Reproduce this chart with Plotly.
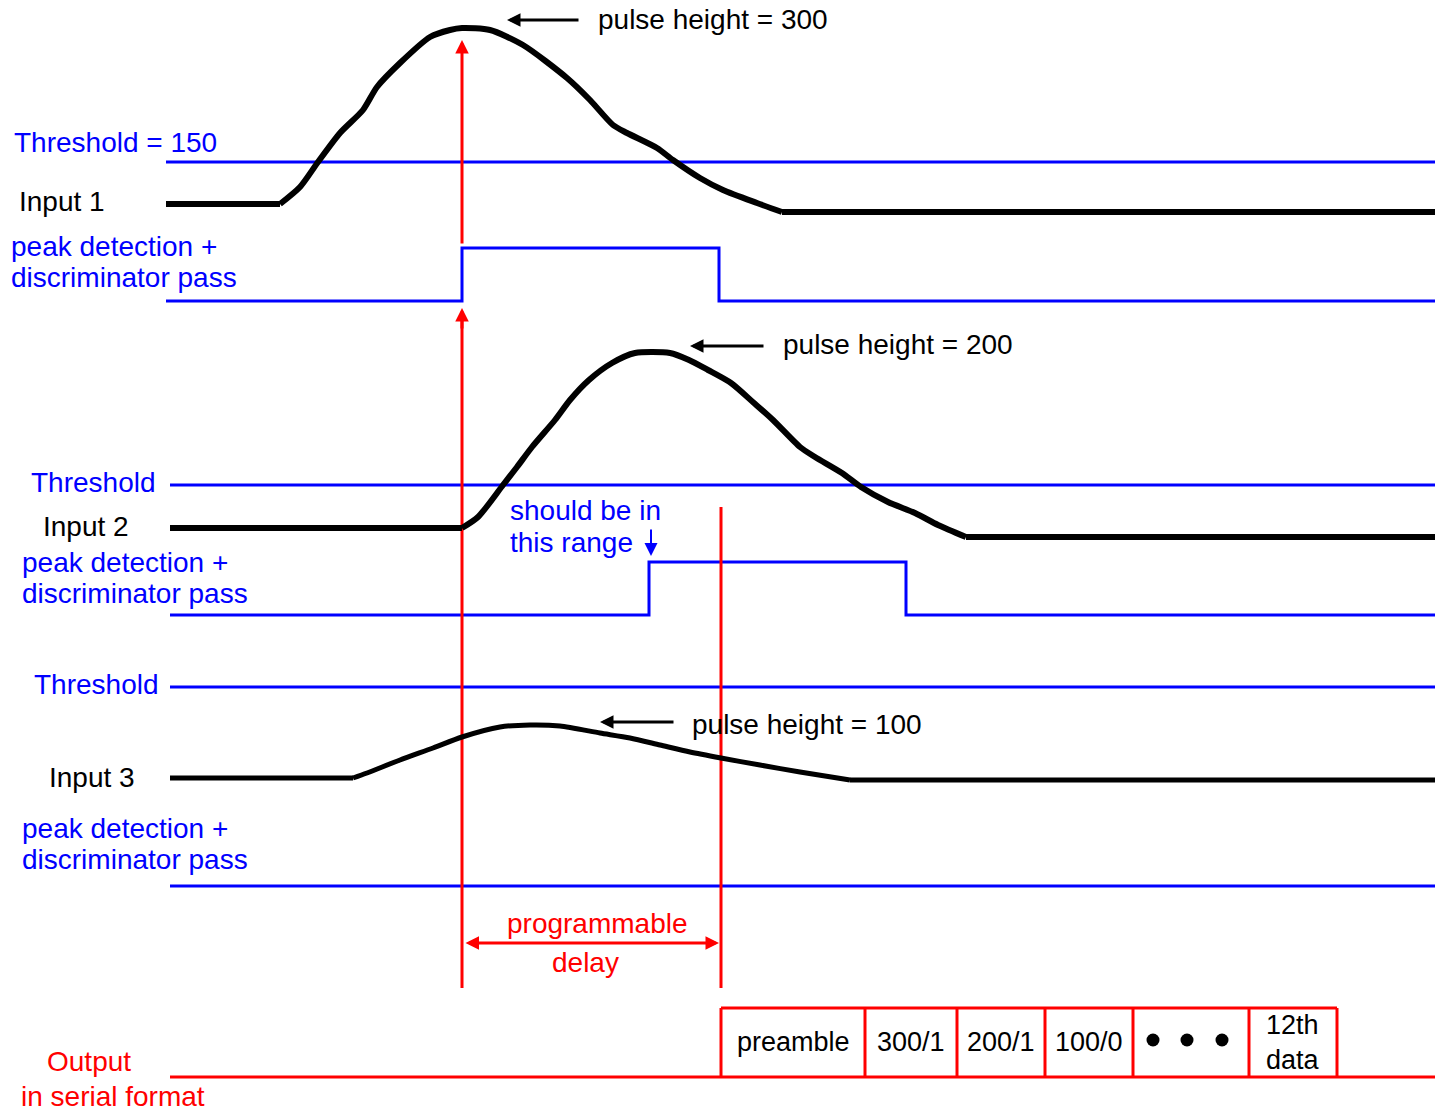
import plotly.graph_objects as go

W, H = 1435, 1113
BLUE = "#0000FF"
RED = "#FF0000"
BLACK = "#000000"
FONT = "Liberation Sans, Arial, sans-serif"
FS = 28

# ---- analog input pulses (drawing coordinates, y grows downward) ----
pulse1_x = [166, 280, 300, 318, 340, 363, 377, 400, 430, 450, 462, 490, 523, 567, 590, 613, 627, 657, 673, 700, 723, 757, 782, 1435]
pulse1_y = [204, 204, 187, 162, 133, 110, 87, 63, 37, 30, 28, 30, 45, 78, 100, 125, 133, 148, 160, 178, 190, 203, 212, 212]

pulse2_x = [170, 462, 478, 503, 517, 532, 555, 570, 589, 612, 635, 670, 689, 708, 731, 754, 773, 800, 815, 842, 861, 888, 915, 938, 966, 1435]
pulse2_y = [528, 528, 517, 485, 467, 447, 420, 400, 380, 363, 353, 353, 360, 370, 383, 403, 420, 447, 457, 473, 487, 502, 513, 525, 537, 537]

pulse3_x = [170, 353, 367, 400, 433, 462, 500, 530, 560, 600, 630, 660, 690, 721, 760, 800, 850, 1435]
pulse3_y = [778, 778, 773, 760, 748, 737, 727, 725, 726, 733, 738, 745, 752, 758, 765, 772, 780, 780]

# ---- discriminator outputs ----
disc1_x = [166, 462, 462, 719, 719, 1435]
disc1_y = [301, 301, 248, 248, 301, 301]
disc2_x = [170, 649, 649, 906, 906, 1435]
disc2_y = [615, 615, 562, 562, 615, 615]
disc3_x = [170, 1435]
disc3_y = [886, 886]

# ---- thresholds ----
thr_start = [166, 170, 170]
thr_y = [162, 485, 687]
thr_labels = ["Threshold = 150", "Threshold", "Threshold"]
thr_label_x = [12, 29, 32]
thr_label_y = [142, 482, 684]

input_labels = ["Input 1", "Input 2", "Input 3"]
input_label_x = [17, 41, 47]
input_label_y = [201, 526, 777]

pd_label_x = [9, 20, 20]
pd_label_y1 = [246, 562, 828]
pd_label_y2 = [277, 593, 859]

heights = ["pulse height = 300", "pulse height = 200", "pulse height = 100"]
height_text_x = [596, 781, 690]
height_text_y = [19, 344, 724]
height_arrow_tail = [580, 765, 675]
height_arrow_head = [507, 690, 600]
height_arrow_y = [20, 346, 722]

# ---- output serial frame ----
out_line_x = [170, 1435]
out_line_y = [1077, 1077]
box_top = 1008
box_edges = [721, 865, 957, 1045, 1133, 1249, 1337]
box_labels = ["preamble", "300/1", "200/1", "100/0", "", "12th<br>data"]
dots_x = [1153, 1187, 1222]
dots_y = [1040, 1040, 1040]

# red timing markers
t_peak = 462
t_delay = 721

fig = go.Figure()

def line(x, y, color, width, shape="linear"):
    fig.add_trace(go.Scatter(x=x, y=y, mode="lines",
                             line=dict(color=color, width=width, shape=shape, smoothing=0.7),
                             hoverinfo="skip", showlegend=False, cliponaxis=False))

def pulse(x, y, width):
    # flat baseline before / after drawn straight, the hump smoothed
    line(x[:2], y[:2], BLACK, width)
    line(x[1:-1], y[1:-1], BLACK, width, "spline")
    line(x[-2:], y[-2:], BLACK, width)

# thresholds
for xs, ty in zip(thr_start, thr_y):
    line([xs, 1435], [ty, ty], BLUE, 3)
# discriminators
line(disc1_x, disc1_y, BLUE, 3)
line(disc2_x, disc2_y, BLUE, 3)
line(disc3_x, disc3_y, BLUE, 3)

# red vertical markers
line([t_peak, t_peak], [320, 988], RED, 3)
line([t_delay, t_delay], [507, 988], RED, 3)

# pulses
pulse(pulse1_x, pulse1_y, 6)
pulse(pulse2_x, pulse2_y, 6)
pulse(pulse3_x, pulse3_y, 5)

# output frame
line(out_line_x, out_line_y, RED, 3)
line([box_edges[0], box_edges[-1]], [box_top, box_top], RED, 3)
vx, vy = [], []
for e in box_edges:
    vx += [e, e, None]
    vy += [box_top, out_line_y[0], None]
line(vx, vy, RED, 3)

fig.add_trace(go.Scatter(x=dots_x, y=dots_y, mode="markers",
                         marker=dict(color=BLACK, size=13), hoverinfo="skip", showlegend=False))

ann = []

def text(x, y, s, color, xanchor="left", size=FS):
    ann.append(dict(x=x, y=y, xref="x", yref="y", text=s, showarrow=False,
                    xanchor=xanchor, yanchor="middle",
                    font=dict(family=FONT, size=size, color=color)))

def arrow(x0, y0, x1, y1, color, width, head=2, size=1.0, side="end"):
    ann.append(dict(x=x1, y=y1, ax=x0, ay=y0, xref="x", yref="y", axref="x", ayref="y",
                    text="", showarrow=True, arrowhead=head, arrowsize=size,
                    arrowwidth=width, arrowcolor=color, standoff=0, startstandoff=0,
                    arrowside=side, startarrowhead=head, startarrowsize=size))

for s, x, y in zip(thr_labels, thr_label_x, thr_label_y):
    text(x, y, s, BLUE)
for s, x, y in zip(input_labels, input_label_x, input_label_y):
    text(x, y, s, BLACK)
for x, y1, y2 in zip(pd_label_x, pd_label_y1, pd_label_y2):
    text(x, y1, "peak detection +", BLUE)
    text(x, y2, "discriminator pass", BLUE)
for s, x, y, xt, xh, ya in zip(heights, height_text_x, height_text_y,
                               height_arrow_tail, height_arrow_head, height_arrow_y):
    text(x, y, s, BLACK)
    arrow(xt, ya, xh, ya, BLACK, 3, head=2, size=0.9)

# red peak arrows
arrow(t_peak, 245, t_peak, 40, RED, 3, head=2, size=0.9)
arrow(t_peak, 330, t_peak, 308, RED, 3, head=2, size=0.9)

# should be in this range
text(508, 510, "should be in", BLUE)
text(508, 542, "this range", BLUE)
arrow(651, 528, 651, 556, BLUE, 2, head=2, size=1.3)

# programmable delay
text(597, 923, "programmable", RED, xanchor="center")
text(585, 962, "delay", RED, xanchor="center")
arrow(t_peak + 2, 943, t_delay - 2, 943, RED, 3, head=2, size=0.9, side="end+start")

# output labels
text(45, 1061, "Output", RED)
text(19, 1096, "in serial format", RED)

for i, lab in enumerate(box_labels):
    if lab:
        cx = (box_edges[i] + box_edges[i + 1]) / 2
        ann.append(dict(x=cx, y=1042, xref="x", yref="y", text=lab, showarrow=False,
                        xanchor="center", yanchor="middle",
                        font=dict(family=FONT, size=FS - 1, color=BLACK)))

fig.update_layout(
    width=W, height=H,
    margin=dict(l=0, r=0, t=0, b=0),
    paper_bgcolor="white", plot_bgcolor="white",
    xaxis=dict(range=[0, W], visible=False, fixedrange=True),
    yaxis=dict(range=[H, 0], visible=False, fixedrange=True),
    annotations=ann,
)

fig.write_html("out.html", config={"displayModeBar": False},
               post_script="document.body.style.margin='0';document.body.style.overflow='hidden';")
